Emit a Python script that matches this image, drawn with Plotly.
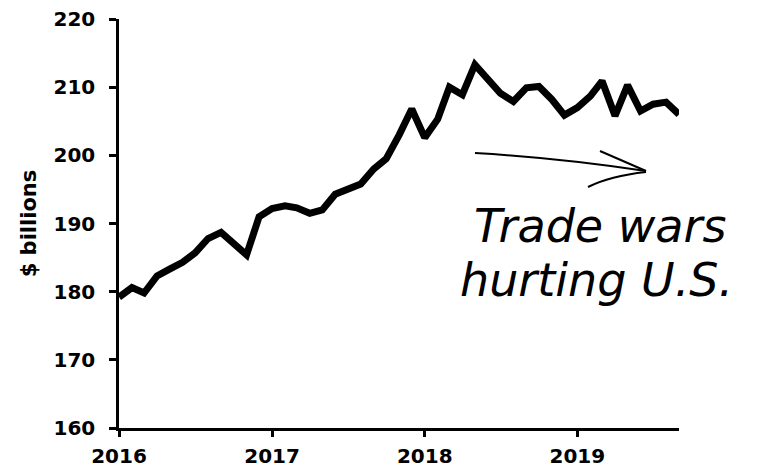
import plotly.graph_objects as go
import pandas as pd

# ---- data ----
start_month = "2016-01-01"
values = [
    179.2, 180.6, 179.8, 182.3, 183.3, 184.3, 185.7, 187.8, 188.7, 187.0, 185.4, 191.0,
    192.2, 192.6, 192.3, 191.5, 192.0, 194.3, 195.0, 195.8, 198.0, 199.5, 203.0, 206.8,
    202.6, 205.3, 210.0, 208.9, 213.3, 211.1, 209.1, 207.9, 209.9, 210.1, 208.2, 205.9,
    207.0, 208.7, 210.9, 205.8, 210.3, 206.5, 207.5, 207.8, 206.0,
]
months = pd.date_range(start_month, periods=len(values), freq="MS")
year_ticks = ["2016-01-01", "2017-01-01", "2018-01-01", "2019-01-01"]
year_labels = ["2016", "2017", "2018", "2019"]
y_ticks = [160, 170, 180, 190, 200, 210, 220]
y_title = "$ billions"
note_line1 = "Trade wars"
note_line2 = "hurting U.S."

# page body adds an 8px offset; target plot box in screen pixels
OFF = 8
SL, SR, ST, SB = 119, 679, 19, 428
W, H = 759 - OFF, 474 - OFF
ML, MT = SL - OFF, ST - OFF
MR, MB = W - (SR - OFF), H - (SB - OFF)
PW, PH = SR - SL, SB - ST


def px(x):
    return (x - SL) / PW


def py(y):
    return (SB - y) / PH


fig = go.Figure()
fig.add_trace(go.Scatter(
    x=months, y=values, mode="lines",
    line=dict(color="black", width=7),
    hoverinfo="skip", showlegend=False,
))

axis_font = dict(family="DejaVu Sans", size=20, color="black", weight="bold")

fig.update_layout(
    width=W, height=H,
    margin=dict(l=ML, r=MR, t=MT, b=MB, autoexpand=False),
    paper_bgcolor="white", plot_bgcolor="white",
    xaxis=dict(
        type="date", range=[months[0], months[-1]],
        tickvals=year_ticks, ticktext=year_labels,
        showgrid=False, zeroline=False, automargin=False,
        showline=True, linecolor="black", linewidth=2.5,
        ticks="outside", ticklen=6, tickwidth=2.5, tickcolor="black",
        tickfont=axis_font, ticklabelstandoff=2,
    ),
    yaxis=dict(
        range=[160, 220.0001], tickvals=y_ticks, automargin=False,
        showgrid=False, zeroline=False,
        showline=True, linecolor="black", linewidth=2.5,
        ticks="outside", ticklen=7, tickwidth=2.5, tickcolor="black",
        tickfont=axis_font, ticklabelstandoff=10,
        ticklabeloverflow="allow",
        title=dict(text=y_title, font=dict(family="DejaVu Sans", size=21,
                                            color="black", weight="bold"),
                   standoff=12),
    ),
)

hand_font = dict(family="DejaVu Sans", size=46, color="black", style="italic")
fig.add_annotation(xref="paper", yref="paper", x=px(472), y=py(226),
                   xanchor="left", yanchor="middle", text=note_line1,
                   showarrow=False, font=hand_font)
fig.add_annotation(xref="paper", yref="paper", x=px(458), y=py(280),
                   xanchor="left", yanchor="middle", text=note_line2,
                   showarrow=False, font=hand_font)

# hand-drawn arrow
shaft = f"M {px(475)},{py(153)} Q {px(560)},{py(158)} {px(646)},{py(171)}"
head_up = f"M {px(600)},{py(151)} L {px(646)},{py(171)}"
head_lo = f"M {px(588)},{py(187)} Q {px(610)},{py(176)} {px(646)},{py(172)}"
for p in (shaft, head_up, head_lo):
    fig.add_shape(type="path", xref="paper", yref="paper", path=p,
                  line=dict(color="black", width=2))

fig.write_html("out.html")
